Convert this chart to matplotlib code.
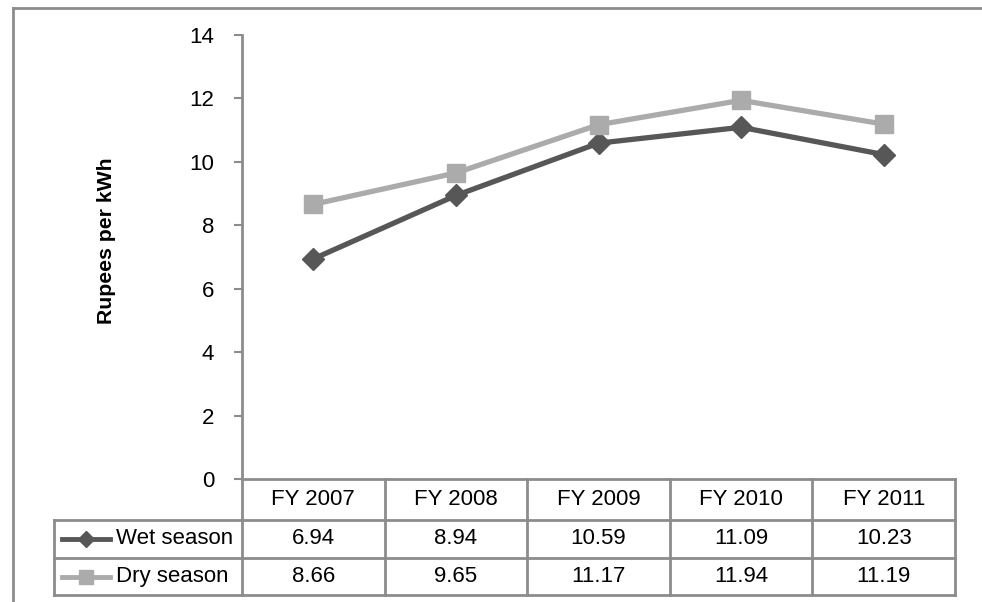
import numpy as np
import matplotlib.pyplot as plt
import matplotlib.transforms as mtransforms
from matplotlib.lines import Line2D

plt.rcParams['font.family'] = ['Liberation Sans', 'DejaVu Sans']

years = ['FY 2007', 'FY 2008', 'FY 2009', 'FY 2010', 'FY 2011']
wet = [6.94, 8.94, 10.59, 11.09, 10.23]
dry = [8.66, 9.65, 11.17, 11.94, 11.19]
series_names = ['Wet season', 'Dry season']

wet_color = '#575757'
dry_color = '#ababab'
grid_color = '#8c8c8c'
fs = 16

W, H = 982, 602
fig = plt.figure(figsize=(W / 100, H / 100), dpi=100)

# plot area in pixel units, converted to figure fractions
left, right, top, bottom = 242, 955, 35, 479
ax = fig.add_axes([left / W, 1 - bottom / H, (right - left) / W, (bottom - top) / H])

x = np.arange(len(years))
ax.plot(x, wet, color=wet_color, lw=3.8, marker='D', ms=11, mec=wet_color, mfc=wet_color)
ax.plot(x, dry, color=dry_color, lw=3.8, marker='s', ms=13, mec=dry_color, mfc=dry_color)

ax.set_xlim(-0.5, len(years) - 0.5)
ax.set_ylim(0, 14)
ax.set_yticks(range(0, 15, 2))
ax.set_xticks([])
for s in ['top', 'right']:
    ax.spines[s].set_visible(False)
for s in ['left', 'bottom']:
    ax.spines[s].set_color(grid_color)
    ax.spines[s].set_linewidth(2)
ax.tick_params(axis='y', length=6, width=1.5, color=grid_color, labelsize=fs, pad=14)
ax.set_ylabel('Rupees per kWh', fontsize=15.3, fontweight='bold', labelpad=0)
ax.yaxis.set_label_coords((116 - left) / (right - left), 0.5 + (257 - 241) / (bottom - top))

# data table below the plot: x in data units, y in axes units
tr = mtransforms.blended_transform_factory(ax.transData, ax.transAxes)
ph = bottom - top
y_head = (bottom - 520) / ph
y_r1 = (bottom - 558) / ph
y_r2 = (bottom - 595) / ph
unit = (right - left) / len(years)
x_leg = -0.5 + (54 - left) / unit


def hline(x0, x1, y):
    ax.add_line(Line2D([x0, x1], [y, y], transform=tr, color=grid_color, lw=2, clip_on=False))


def vline(xv, y0, y1):
    ax.add_line(Line2D([xv, xv], [y0, y1], transform=tr, color=grid_color, lw=2, clip_on=False))


hline(-0.5, len(years) - 0.5, y_head)
hline(x_leg, len(years) - 0.5, y_r1)
hline(x_leg, len(years) - 0.5, y_r2)
hline(x_leg, -0.5, y_head)
for i in range(len(years) + 1):
    vline(i - 0.5, 0, y_r2)
vline(x_leg, y_head, y_r2)

for i, yr in enumerate(years):
    ax.text(i, y_head / 2, yr, transform=tr, ha='center', va='center', fontsize=fs)
    ax.text(i, (y_head + y_r1) / 2, f'{wet[i]:.2f}', transform=tr, ha='center', va='center', fontsize=fs)
    ax.text(i, (y_r1 + y_r2) / 2, f'{dry[i]:.2f}', transform=tr, ha='center', va='center', fontsize=fs)

# legend keys in the row header cells
kx0 = x_leg + 8 / unit
kx1 = x_leg + 56 / unit
tx = x_leg + 62 / unit
rows = [((y_head + y_r1) / 2, wet_color, 'D', 8), ((y_r1 + y_r2) / 2, dry_color, 's', 10)]
for (yc, c, m, ms), name in zip(rows, series_names):
    ax.add_line(Line2D([kx0, kx1], [yc, yc], transform=tr, color=c, lw=3.5, clip_on=False))
    ax.add_line(Line2D([(kx0 + kx1) / 2], [yc], transform=tr, color=c, marker=m, ms=ms, clip_on=False))
    ax.text(tx, yc, name, transform=tr, ha='left', va='center', fontsize=fs)

# outer chart frame (top and left edges)
fig.add_artist(Line2D([13 / W, 1], [1 - 8 / H, 1 - 8 / H], transform=fig.transFigure, color=grid_color, lw=2))
fig.add_artist(Line2D([13 / W, 13 / W], [0, 1 - 8 / H], transform=fig.transFigure, color=grid_color, lw=2))

fig.savefig('out.png', dpi=100)
